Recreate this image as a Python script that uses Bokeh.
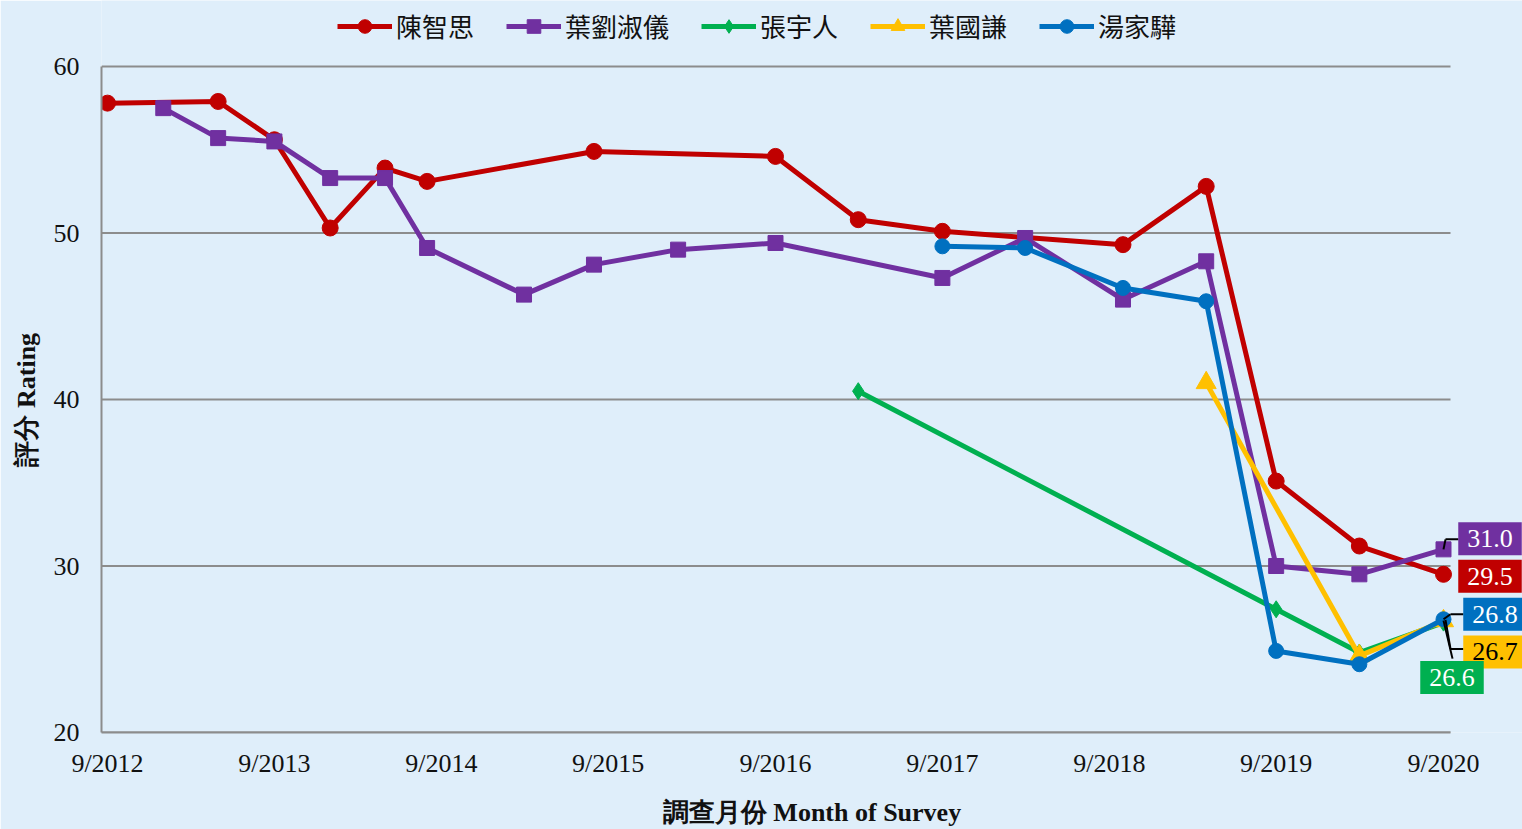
import pandas as pd
from bokeh.plotting import figure
from bokeh.models import Range1d, FixedTicker, Legend, LegendItem, Label, Arrow, Title
from bokeh.embed import file_html
from bokeh.resources import INLINE

# ---------------- data ----------------
series_names = ["陳智思", "葉劉淑儀", "張宇人", "葉國謙", "湯家驊"]

chan_dates = ["2012-09", "2013-05", "2013-09", "2014-01", "2014-05", "2014-08", "2015-08",
              "2016-09", "2017-03", "2017-09", "2018-10", "2019-04", "2019-09", "2020-03", "2020-09"]
chan_vals = [57.8, 57.9, 55.6, 50.3, 53.9, 53.1, 54.9, 54.6, 50.8, 50.1, 49.3, 52.8, 35.1, 31.2, 29.5]

ip_dates = ["2013-01", "2013-05", "2013-09", "2014-01", "2014-05", "2014-08", "2015-03", "2015-08",
            "2016-02", "2016-09", "2017-09", "2018-03", "2018-10", "2019-04", "2019-09", "2020-03", "2020-09"]
ip_vals = [57.5, 55.7, 55.5, 53.3, 53.3, 49.1, 46.3, 48.1, 49.0, 49.4, 47.3, 49.7, 46.0, 48.3, 30.0, 29.5, 31.0]

cheung_dates = ["2017-03", "2019-09", "2020-03", "2020-09"]
cheung_vals = [40.5, 27.4, 24.8, 26.6]

ipkk_dates = ["2019-04", "2020-03", "2020-09"]
ipkk_vals = [41.0, 24.6, 26.7]

tong_dates = ["2017-09", "2018-03", "2018-10", "2019-04", "2019-09", "2020-03", "2020-09"]
tong_vals = [49.2, 49.1, 46.7, 45.9, 24.9, 24.1, 26.8]

tick_years = [2012, 2013, 2014, 2015, 2016, 2017, 2018, 2019, 2020]
tick_labels = ["9/%d" % y for y in tick_years]
y_ticks = [20, 30, 40, 50, 60]

# ---------------- layout / styles ----------------
BG = "#DFEEFA"
GRID = "#8C8C8C"
W, H = 1522, 829
ML, MR, MT, MB = 101, 0, 0, 97
FW = W - ML - MR          # frame width (px)
FH = H - MT - MB          # frame height (px)
TOP_PX = 66               # px from frame top to the 60 line (legend lives above it)
PAD_L, PAD_R = 6, 7       # px between first/last tick and grid ends
TICK_SPAN_PX = 1336.0     # px between first and last x tick

def ms(s):
    return pd.Timestamp(s).value / 1e6

t_first = ms("%d-09-01" % tick_years[0])
t_last = ms("%d-09-01" % tick_years[-1])
ms_per_px = (t_last - t_first) / TICK_SPAN_PX
x0 = t_first - PAD_L * ms_per_px
x1 = x0 + FW * ms_per_px
grid_end = t_last + PAD_R * ms_per_px

val_per_px = (y_ticks[-1] - y_ticks[0]) / (FH - TOP_PX)
y0 = y_ticks[0]
y1 = y_ticks[-1] + TOP_PX * val_per_px

p = figure(width=W, height=H, x_axis_type="datetime", title=None,
           x_range=Range1d(x0, x1), y_range=Range1d(y0, y1),
           output_backend="svg", toolbar_location=None,
           min_border_left=ML, min_border_right=MR, min_border_top=MT, min_border_bottom=MB,
           background_fill_color=BG, border_fill_color=BG, outline_line_color=None)

SERIF = "Liberation Serif"

tick_ms = [ms("%d-09-01" % y) for y in tick_years]
xa = p.xaxis[0]
xa.ticker = FixedTicker(ticks=tick_ms, minor_ticks=[])
xa.major_label_overrides = {t: lab for t, lab in zip(tick_ms, tick_labels)}
xa.bounds = (x0, grid_end)
xa.major_tick_line_color = None
xa.minor_tick_line_color = None
xa.major_tick_out = 0
xa.major_tick_in = 0
xa.major_label_standoff = 16
xa.major_label_text_font = SERIF
xa.major_label_text_font_size = "26px"
xa.major_label_text_color = "#111111"
xa.axis_line_color = GRID
xa.axis_line_width = 2
xa.axis_label = "調查月份 Month of Survey"
xa.axis_label_text_font = SERIF
xa.axis_label_text_font_style = "bold"
xa.axis_label_text_font_size = "26px"
xa.axis_label_text_color = "#111111"
xa.axis_label_standoff = 17

ya = p.yaxis[0]
ya.ticker = FixedTicker(ticks=y_ticks, minor_ticks=[])
ya.bounds = (y_ticks[0], y_ticks[-1])
ya.major_tick_line_color = None
ya.minor_tick_line_color = None
ya.major_tick_out = 0
ya.major_tick_in = 0
ya.major_label_standoff = 22
ya.major_label_text_font = SERIF
ya.major_label_text_font_size = "26px"
ya.major_label_text_color = "#111111"
ya.axis_line_color = GRID
ya.axis_line_width = 2

# y-axis title, centred on the 20..60 span (not on the whole frame which also holds the legend)
p.add_layout(Title(text="評分 Rating", align="left", offset=266, vertical_align="middle",
                   text_font=SERIF, text_font_style="bold", text_font_size="26px",
                   text_color="#111111", standoff=18), "left")

p.xgrid.grid_line_color = None
p.ygrid.grid_line_color = None
# horizontal grid lines, limited to the data area (end-value boxes sit to their right)
p.segment(x0=[x0] * len(y_ticks), y0=y_ticks, x1=[grid_end] * len(y_ticks), y1=y_ticks,
          line_color=GRID, line_width=2, level="underlay")

all_series = [
    # dates, values, colour, marker, size, box text colour
    (chan_dates, chan_vals, "#C00000", "circle", 16, "white"),
    (ip_dates, ip_vals, "#7030A0", "square", 15, "white"),
    (cheung_dates, cheung_vals, "#00B050", "diamond", 17, "white"),
    (ipkk_dates, ipkk_vals, "#FFC000", "triangle", 20, "black"),
    (tong_dates, tong_vals, "#0070C0", "circle", 15, "white"),
]

items = []
for name, (d, v, col, mk, sz, tcol) in zip(series_names, all_series):
    xs = [ms(s + "-01") for s in d]
    r1 = p.line(xs, v, line_color=col, line_width=5)
    r2 = p.scatter(xs, v, marker=mk, size=sz, fill_color=col, line_color=col)
    items.append(LegendItem(label=name, renderers=[r1, r2]))

legend = Legend(items=items, orientation="horizontal", location=(236, 688),
                label_text_font="Noto Sans CJK TC", label_text_font_size="26px",
                label_text_color="#111111",
                glyph_width=55, glyph_height=34, spacing=32, label_standoff=4,
                padding=0, margin=0, border_line_color=None, background_fill_alpha=0)
p.add_layout(legend)

# end-value boxes: (series index, box centre offset px (dx, dy up), leader polyline px offsets)
box_cfg = [
    (1, 46.5, 10.5, [(0, 0), (2, 10), (15, 10)]),
    (0, 46.5, -2, []),
    (4, 51.5, 5, [(0, 0), (7, 5), (20, 5)]),
    (3, 51.5, -31, [(2, 1), (7, -28), (20, -28)]),
    (2, 8.5, -55, [(0, 2), (9, -36)]),
]

for idx, bdx, bdy, leader in box_cfg:
    d, v, col, mk, sz, tcol = all_series[idx]
    lx = ms(d[-1] + "-01")
    ly = v[-1]
    for (ax, ay), (bx, by) in zip(leader[:-1], leader[1:]):
        p.add_layout(Arrow(x_start=lx + ax * ms_per_px, y_start=ly + ay * val_per_px,
                           x_end=lx + bx * ms_per_px, y_end=ly + by * val_per_px,
                           start=None, end=None, line_color="black", line_width=2))

for idx, bdx, bdy, leader in box_cfg:
    d, v, col, mk, sz, tcol = all_series[idx]
    lx = ms(d[-1] + "-01")
    ly = v[-1]
    p.add_layout(Label(x=lx, y=ly, x_offset=bdx, y_offset=bdy, text="%.1f" % ly,
                       text_align="center", text_baseline="middle",
                       text_font=SERIF, text_font_size="26px", text_color=tcol,
                       background_fill_color=col,
                       padding=dict(left=9, right=9, top=8, bottom=8)))

open("out.html", "w").write(file_html(p, INLINE))
